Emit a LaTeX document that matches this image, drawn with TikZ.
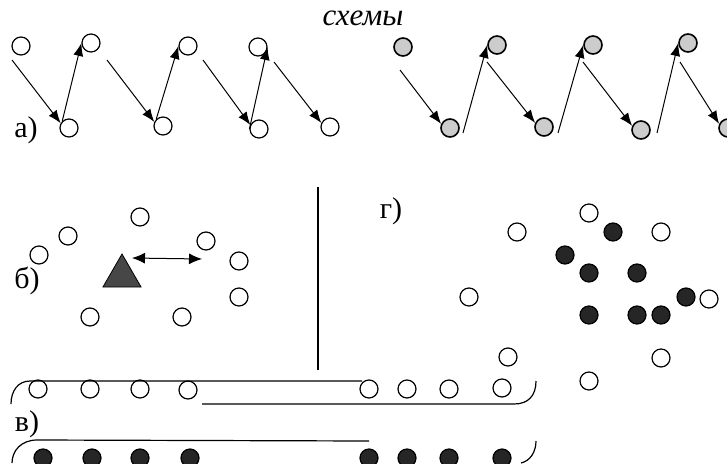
\documentclass[tikz,border=0pt]{standalone}
\usepackage{fontspec}
\setmainfont{Liberation Serif}
\usetikzlibrary{arrows.meta, shapes.geometric}
\tikzset{
    ball/.style={circle, draw, line width=1.2pt, minimum size=18pt, inner sep=0pt}, % open particle
    greyball/.style={ball, fill=black!20, line width=1.6pt},
    darkball/.style={ball, fill=black!85},
    hop/.style={-{Latex[length=13pt,width=10pt]}, line width=1pt}, % jump arrow
    swing/.style={{Latex[length=13pt,width=11pt]}-{Latex[length=13pt,width=11pt]}, line width=1pt},
    tag/.style={font=\rmfamily\fontsize{30}{34}\selectfont, inner sep=0pt},
    rim/.style={line width=1.2pt},
}

\begin{document}
\begin{tikzpicture}[x=1pt, y=-1pt]
        \useasboundingbox (0,0) rectangle (727,463);
        \node[font=\rmfamily\itshape\fontsize{31}{34}\selectfont, inner sep=0pt] (title) at (363,18) {схемы};
        % а) open circles
        \node[tag] (labA) at (26,130) {а)};
        \node[ball] (t1) at (21,46) {};
        \node[ball] (t2) at (91,43) {};
        \node[ball] (t3) at (188,46) {};
        \node[ball] (t4) at (258,47) {};
        \node[ball] (b1) at (69,128) {};
        \node[ball] (b2) at (163,126) {};
        \node[ball] (b3) at (259,129) {};
        \node[ball] (b4) at (330,127) {};
        \coordinate (s1) at (12,60);
        \coordinate (s2) at (107,60);
        \coordinate (s3) at (203,60);
        \coordinate (s4) at (274,62);
        \draw[hop] (s1) -- (b1.150);
        \draw[hop] (b1.north west) -- (t2.west);
        \draw[hop] (s2) -- (b2.155);
        \draw[hop] (b2.north west) -- (t3.west);
        \draw[hop] (s3) -- (b3.155);
        \draw[hop] (b3.west) -- (t4.east);
        \draw[hop] (s4) -- (b4.155);
        % а) grey circles
        \node[greyball] (gt1) at (403,47) {};
        \node[greyball] (gt2) at (497,45) {};
        \node[greyball] (gt3) at (593,45) {};
        \node[greyball] (gt4) at (688,43) {};
        \node[greyball] (gb1) at (450,128) {};
        \node[greyball] (gb2) at (544,127) {};
        \node[greyball] (gb3) at (641,130) {};
        \node[greyball] (gb4) at (728,128) {};
        \coordinate (r1) at (400,70);
        \coordinate (r2) at (487,62);
        \coordinate (r3) at (583,62);
        \coordinate (r4) at (680,62);
        \coordinate (u1) at (463,133);
        \coordinate (u2) at (558,133);
        \coordinate (u3) at (657,133);
        \draw[hop] (r1) -- (gb1.155);
        \draw[hop] (u1) -- (gt2.west);
        \draw[hop] (r2) -- (gb2.155);
        \draw[hop] (u2) -- (gt3.west);
        \draw[hop] (r3) -- (gb3.155);
        \draw[hop] (u3) -- (gt4.west);
        \draw[hop] (r4) -- (gb4.155);
        % б)
        \node[tag] (labB) at (27,281) {б)};
        \node[regular polygon, regular polygon sides=3, minimum size=44pt, inner sep=0pt,
              draw, line width=0.8pt, fill=black!72] (ion) at (122,276) {};
        \node[ball] (h1) at (140,217) {};
        \node[ball] (h2) at (68,236) {};
        \node[ball] (h3) at (39,255) {};
        \node[ball] (h4) at (206,241) {};
        \node[ball] (h5) at (239,261) {};
        \node[ball] (h6) at (239,297) {};
        \node[ball] (h7) at (90,317) {};
        \node[ball] (h8) at (182,317) {};
        \coordinate (pullL) at (132,258);
        \coordinate (pullR) at (202,259);
        \draw[swing] (pullL) -- (pullR);
        \draw[rim] (318,187) -- (318,370);
        % г)
        \node[tag] (labG) at (391,211) {г)};
        \node[ball] (o1) at (589,213) {};
        \node[ball] (o2) at (517,232) {};
        \node[ball] (o3) at (661,232) {};
        \node[ball] (o4) at (469,297) {};
        \node[ball] (o5) at (709,299) {};
        \node[ball] (o6) at (508,357) {};
        \node[ball] (o7) at (661,358) {};
        \node[ball] (o8) at (589,381) {};
        \node[darkball] (k1) at (613,232) {};
        \node[darkball] (k2) at (565,255) {};
        \node[darkball] (k3) at (589,273) {};
        \node[darkball] (k4) at (637,273) {};
        \node[darkball] (k5) at (686,297) {};
        \node[darkball] (k6) at (589,315) {};
        \node[darkball] (k7) at (637,315) {};
        \node[darkball] (k8) at (661,315) {};
        % в)
        \node[tag] (labV) at (27,424) {в)};
        \node[ball] (w1) at (38,389) {};
        \node[ball] (w2) at (90,389) {};
        \node[ball] (w3) at (140,389) {};
        \node[ball] (w4) at (188,390) {};
        \node[ball] (w5) at (369,389) {};
        \node[ball] (w6) at (407,389) {};
        \node[ball] (w7) at (449,389) {};
        \node[ball] (w8) at (502,388) {};
        \node[darkball] (d1) at (43,458) {};
        \node[darkball] (d2) at (92,458) {};
        \node[darkball] (d3) at (140,458) {};
        \node[darkball] (d4) at (190,458) {};
        \node[darkball] (d5) at (369,458) {};
        \node[darkball] (d6) at (407,458) {};
        \node[darkball] (d7) at (449,458) {};
        \node[darkball] (d8) at (502,458) {};
        \draw[rim] (11,404) .. controls (11,391) and (18,381) .. (30,381) -- (362,381);
        \draw[rim] (202,404) -- (514,404) .. controls (528,404) and (536,396) .. (536,381);
        \draw[rim] (12,463) .. controls (12,451) and (21,440) .. (37,440) -- (369,441);
        \draw[rim] (536,441) .. controls (536,452) and (530,461) .. (521,463);
\end{tikzpicture}
\end{document}
